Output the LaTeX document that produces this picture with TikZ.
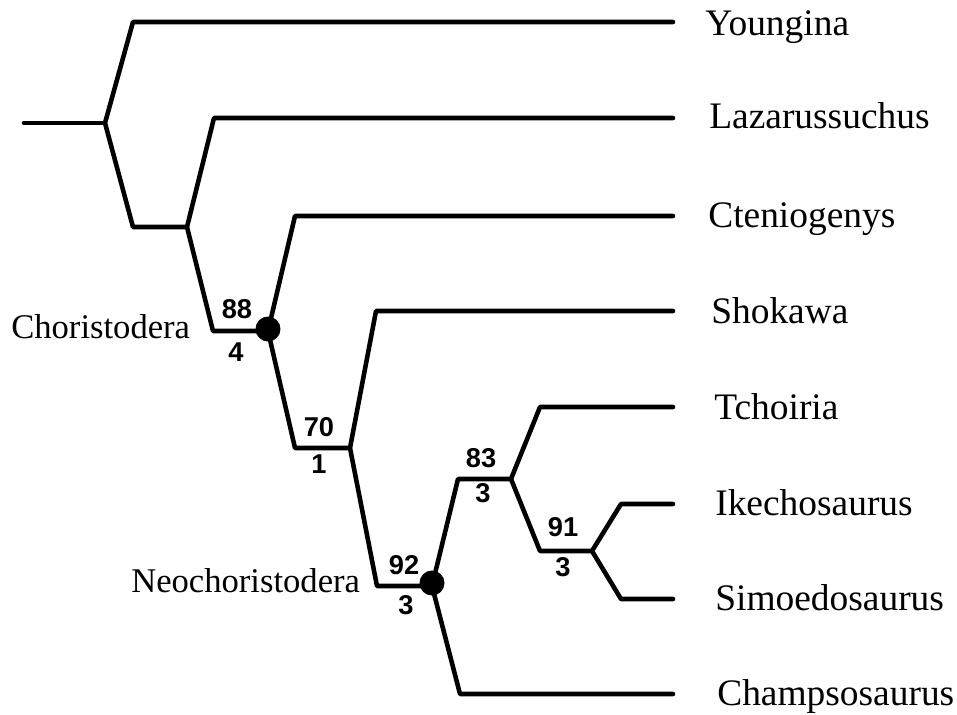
\documentclass[tikz,border=0pt]{standalone}
\usepackage{fontspec}
\setmainfont{Liberation Serif}
\newfontfamily\numfont{Liberation Sans}

\begin{document}
\begin{tikzpicture}[x=0.02cm,y=-0.02cm,line width=2.6pt,line join=round,line cap=round,
  taxon/.style={font=\fontsize{21.3}{24}\selectfont,anchor=base west,inner sep=0},
  clade/.style={font=\fontsize{19.7}{22}\selectfont,anchor=base west,inner sep=0},
  support/.style={font=\numfont\bfseries\fontsize{15.5}{18}\selectfont,inner sep=0},
  dot/.style={circle,fill,inner sep=0,minimum size=0.5cm}]
	\useasboundingbox (0,0) rectangle (957,714);
	% junctions
	\coordinate (root) at (24,123);
	\coordinate (A) at (105,123);
	\coordinate (B) at (187,227);
	\coordinate (C) at (268,331);
	\coordinate (D) at (350,448);
	\coordinate (E) at (432,586);
	\coordinate (F) at (511,479);
	\coordinate (G) at (592,551);
	% corners
	\coordinate (Aup) at (133,22);
	\coordinate (Alo) at (133,227);
	\coordinate (Bup) at (214,118);
	\coordinate (Blo) at (213,331);
	\coordinate (Cup) at (295,216);
	\coordinate (Clo) at (295,448);
	\coordinate (Dup) at (376,311);
	\coordinate (Dlo) at (377,586);
	\coordinate (Eup) at (458,479);
	\coordinate (Elo) at (460,694);
	\coordinate (Fup) at (540,407);
	\coordinate (Flo) at (540,551);
	\coordinate (Gup) at (621,504);
	\coordinate (Glo) at (621,599);
	% tips
	\coordinate (tYou) at (673,22);
	\coordinate (tLaz) at (673,118);
	\coordinate (tCte) at (673,216);
	\coordinate (tSho) at (673,311);
	\coordinate (tTch) at (673,407);
	\coordinate (tIke) at (673,504);
	\coordinate (tSim) at (673,599);
	\coordinate (tCha) at (673,694);
	% branches
	\draw (root) -- (A);
	\draw (tYou) -- (Aup) -- (A) -- (Alo) -- (B);
	\draw (tLaz) -- (Bup) -- (B) -- (Blo) -- (C);
	\draw (tCte) -- (Cup) -- (C) -- (Clo) -- (D);
	\draw (tSho) -- (Dup) -- (D) -- (Dlo) -- (E);
	\draw (F) -- (Eup) -- (E) -- (Elo) -- (tCha);
	\draw (tTch) -- (Fup) -- (F) -- (Flo) -- (G);
	\draw (tIke) -- (Gup) -- (G) -- (Glo) -- (tSim);
	\node[dot] (dotC) at (268,329) {};
	\node[dot] (dotE) at (432,583) {};
	% names
	\node[taxon] (nYou) at (703,35) {Youngina};
	\node[taxon] (nLaz) at (707,128) {Lazarussuchus};
	\node[taxon] (nCte) at (706,227) {Cteniogenys};
	\node[taxon] (nSho) at (709,323) {Shokawa};
	\node[taxon] (nTch) at (712,419) {Tchoiria};
	\node[taxon] (nIke) at (713,515) {Ikechosaurus};
	\node[taxon] (nSim) at (713,610) {Simoedosaurus};
	\node[taxon] (nCha) at (715,705) {Champsosaurus};
	\node[clade] (Cho) at (9,338) {Choristodera};
	\node[clade] (Neo) at (129,592) {Neochoristodera};
	% support values
	\node[support] (bC) at (237,309) {88};
	\node[support] (sC) at (236,352) {4};
	\node[support] (bD) at (319,427) {70};
	\node[support] (sD) at (319,464) {1};
	\node[support] (bE) at (404,565) {92};
	\node[support] (sE) at (406,605) {3};
	\node[support] (bF) at (481,458) {83};
	\node[support] (sF) at (483,493) {3};
	\node[support] (bG) at (563,527) {91};
	\node[support] (sG) at (563,567) {3};
\end{tikzpicture}
\end{document}
